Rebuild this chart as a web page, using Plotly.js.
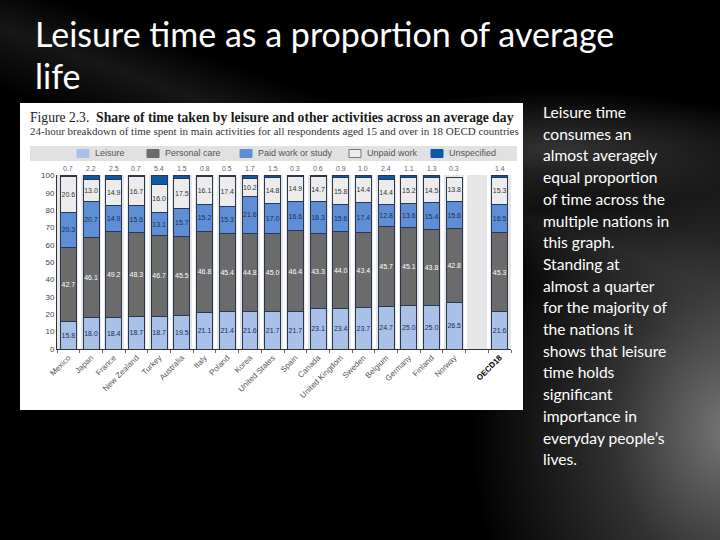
<!DOCTYPE html>
<html>
<head>
<meta charset="utf-8">
<script src="https://cdn.plot.ly/plotly-3.0.1.min.js"></script>
<style>
  html, body { margin:0; padding:0; }
  body { width:720px; height:540px; overflow:hidden; position:relative;
    background:
      radial-gradient(ellipse 260px 330px at 730px 430px, rgba(125,125,125,0.95) 0%, rgba(70,70,70,0.7) 45%, rgba(0,0,0,0) 100%),
      radial-gradient(ellipse 220px 60px at 560px 150px, rgba(150,150,150,0.35) 0%, rgba(0,0,0,0) 100%),
      linear-gradient(200deg, rgba(0,0,0,0) 0%, rgba(0,0,0,0) 30%, rgba(90,90,90,0.25) 36%, rgba(0,0,0,0) 44%),
      #000;
  }
  #title { position:absolute; left:35px; top:13px; width:680px; color:#fff;
    font-family: Lato, "Noto Sans", sans-serif; font-size:34px; line-height:42px; }
  #side { position:absolute; left:543px; top:102px; width:175px; color:#fff;
    font-family: Lato, "Noto Sans", sans-serif; font-size:15.6px; line-height:21.7px; }
  #chart { position:absolute; left:20px; top:103px; width:503px; height:307px; background:#fff; }
</style>
</head>
<body>
<div id="title">Leisure time as a proportion of average<br>life</div>
<div id="side">Leisure time<br>consumes an<br>almost averagely<br>equal proportion<br>of time across the<br>multiple nations in<br>this graph.<br>Standing at<br>almost a quarter<br>for the majority of<br>the nations it<br>shows that leisure<br>time holds<br>significant<br>importance in<br>everyday people’s<br>lives.</div>
<div id="chart"></div>
<script>
// ---- data ----
const categories = ['Mexico','Japan','France','New Zealand','Turkey','Australia','Italy','Poland','Korea','United States','Spain','Canada','United Kingdom','Sweden','Belgium','Germany','Finland','Norway',' ','OECD18'];
const leisure      = [15.8,18.0,18.4,18.7,18.7,19.5,21.1,21.4,21.6,21.7,21.7,23.1,23.4,23.7,24.7,25.0,25.0,26.5,null,21.6];
const personalCare = [42.7,46.1,49.2,48.3,46.7,45.5,46.8,45.4,44.8,45.0,46.4,43.3,44.0,43.4,45.7,45.1,43.8,42.8,null,45.3];
const paidWork     = [20.3,20.7,14.9,15.6,13.1,15.7,15.2,15.3,21.6,17.0,16.6,18.3,15.6,17.4,12.8,13.6,15.4,15.6,null,16.5];
const unpaidWork   = [20.6,13.0,14.9,16.7,16.0,17.5,16.1,17.4,10.2,14.8,14.9,14.7,15.8,14.4,14.4,15.2,14.5,13.8,null,15.3];
const unspecified  = [0.7,2.2,2.5,0.7,5.4,1.5,0.8,0.5,1.7,1.5,0.3,0.6,0.9,1.0,2.4,1.1,1.3,0.3,null,1.4];
const seriesNames  = ['Leisure','Personal care','Paid work or study','Unpaid work','Unspecified'];
const figTitle = 'Figure 2.3.  <b>Share of time taken by leisure and other activities across an average day</b>';
const figSubtitle = '24-hour breakdown of time spent in main activities for all respondents aged 15 and over in 18 OECD countries';

// ---- styles ----
const fills = ['#a9c0e8','#6b6b6b','#5e8fd6','#ececec','#0c5aa6'];
const labelColors = ['#1d2c4f','#ffffff','#1d2c4f','#333333','#666666'];
const lineColor = '#2a3550';
const values = [leisure, personalCare, paidWork, unpaidWork, unspecified];
const fmt = v => (v == null ? '' : v.toFixed(1));

const traces = values.map((vals, i) => ({
  type: 'bar',
  name: seriesNames[i],
  x: categories,
  y: vals,
  marker: { color: fills[i], line: { color: lineColor, width: 1 } },
  text: i === 4 ? null : vals.map(fmt),
  textposition: i === 4 ? 'none' : 'inside',
  insidetextanchor: 'middle',
  textangle: 0,
  constraintext: 'none',
  cliponaxis: false,
  textfont: { family: 'Liberation Sans, Arial, sans-serif', size: 7, color: labelColors[i] },
  hoverinfo: 'skip',
  showlegend: false
}));

// plot area geometry inside the 503x307 chart box
const L = 37, R = 12, T = 72, B = 61;
const W = 503 - L - R, H = 307 - T - B;
const px2x = p => (p - L) / W;     // chart-box px -> paper x
const px2y = p => (H + T - p) / H; // chart-box px -> paper y

const shapes = [{
  type: 'rect', xref: 'paper', yref: 'paper', layer: 'below',
  x0: px2x(10), x1: px2x(497), y0: px2y(58), y1: px2y(43),
  fillcolor: '#e1e1e1', line: { width: 0 }
}];
const annotations = [
  { xref: 'paper', yref: 'paper', x: px2x(8), y: px2y(14), xanchor: 'left', yanchor: 'middle',
    text: figTitle, showarrow: false,
    font: { family: 'Liberation Serif, serif', size: 13.6, color: '#1a1a1a' } },
  { xref: 'paper', yref: 'paper', x: px2x(8), y: px2y(28), xanchor: 'left', yanchor: 'middle',
    text: figSubtitle, showarrow: false,
    font: { family: 'Liberation Serif, serif', size: 11, color: '#333' } }
];
const legendSwatchPx = [57, 127, 220, 329, 411];
seriesNames.forEach((nm, i) => {
  const sx = legendSwatchPx[i];
  shapes.push({ type: 'rect', xref: 'paper', yref: 'paper',
    x0: px2x(sx), x1: px2x(sx + 12), y0: px2y(54.5), y1: px2y(46.5),
    fillcolor: fills[i], line: { color: i === 3 ? '#777' : fills[i], width: 1 } });
  annotations.push({ xref: 'paper', yref: 'paper', x: px2x(sx + 16), y: px2y(50.5),
    xanchor: 'left', yanchor: 'middle', text: nm, showarrow: false,
    font: { family: 'Liberation Sans, Arial, sans-serif', size: 9, color: '#555' } });
});
// "Unspecified" values printed above each bar, at the top of the axis
categories.forEach((c, i) => {
  if (unspecified[i] == null) return;
  annotations.push({ xref: 'x', yref: 'paper', x: c, y: 1, yanchor: 'bottom', yshift: 1,
    text: fmt(unspecified[i]), showarrow: false,
    font: { family: 'Liberation Sans, Arial, sans-serif', size: 7, color: '#666' } });
});

const layout = {
  width: 503, height: 307,
  margin: { l: L, r: R, t: T, b: B },
  paper_bgcolor: '#ffffff',
  plot_bgcolor: '#e6e6e6',
  barmode: 'stack',
  bargap: 0.3,
  showlegend: false,
  xaxis: {
    type: 'category',
    tickvals: categories,
    ticktext: categories.map(c => c === 'OECD18' ? '<b><span style="color:#000">OECD18</span></b>' : c),
    tickson: 'boundaries',
    ticks: 'outside', ticklen: 3, tickcolor: '#666',
    showgrid: true, gridcolor: '#ffffff', gridwidth: 3,
    showline: true, linecolor: '#333', linewidth: 1,
    tickangle: -45,
    tickfont: { family: 'Liberation Sans, Arial, sans-serif', size: 8, color: '#555' },
    fixedrange: true
  },
  yaxis: {
    range: [0, 100.2], tickvals: [0,10,20,30,40,50,60,70,80,90,100],
    showgrid: false, zeroline: false,
    showline: true, linecolor: '#333', linewidth: 1,
    ticks: '',
    tickfont: { family: 'Liberation Sans, Arial, sans-serif', size: 8, color: '#444' },
    fixedrange: true
  },
  shapes: shapes,
  annotations: annotations
};

Plotly.newPlot('chart', traces, layout, { displayModeBar: false, staticPlot: true });
</script>
</body>
</html>
